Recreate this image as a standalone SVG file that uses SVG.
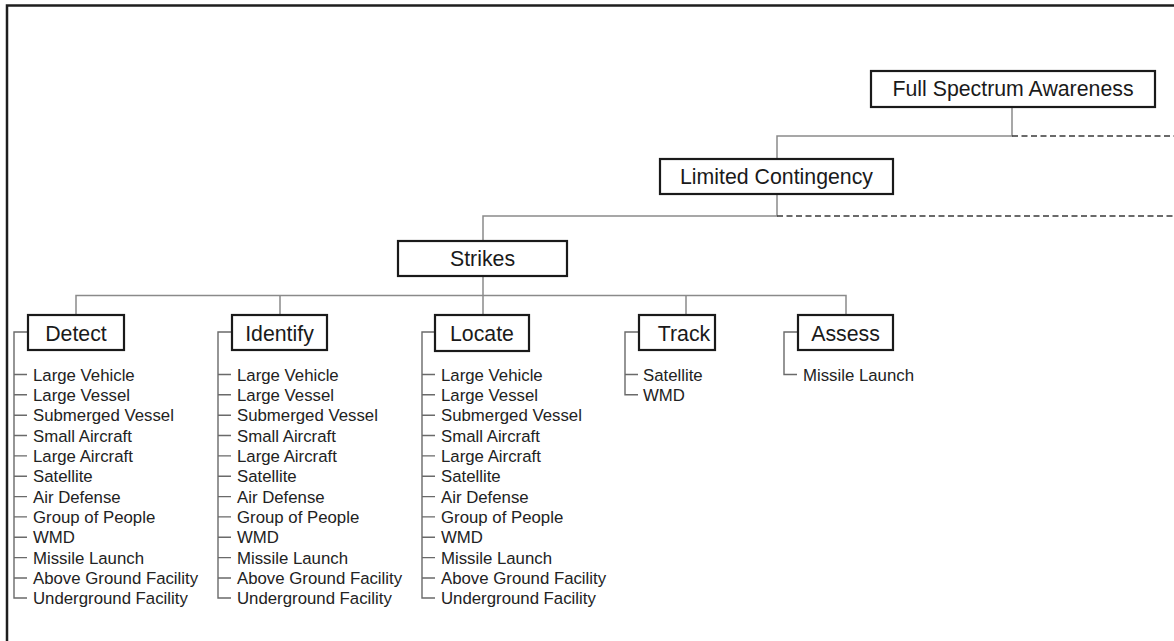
<svg xmlns="http://www.w3.org/2000/svg" width="1174" height="641" viewBox="0 0 1174 641">
  <defs>
    <style>
      .frame { fill: none; stroke: #1e1e1e; stroke-width: 2.5; }
      .link { fill: none; stroke: #8a8a8a; stroke-width: 1.5; }
      .dash { fill: none; stroke: #3a3a3a; stroke-width: 1.5; stroke-dasharray: 6 3.5; }
      .bracket { fill: none; stroke: #6a6a6a; stroke-width: 1.4; }
      .box { fill: #ffffff; stroke: #1a1a1a; stroke-width: 2.2; }
      .label { font-family: "Liberation Sans", Arial, sans-serif; font-size: 21.3px; fill: #1a1a1a; text-anchor: middle; }
      .item { font-family: "Liberation Sans", Arial, sans-serif; font-size: 16.8px; fill: #222222; }
    </style>
  </defs>

  <rect x="0" y="0" width="1174" height="641" fill="#ffffff"/>
  <path class="frame" d="M7,641 V5.5 H1174"/>

  <!-- hierarchy connectors -->
  <g id="connectors">
    <path class="link" d="M1012,107 V136 H777 V216 H483 V315"/>
    <path class="dash" d="M1012,136 H1174"/>
    <path class="dash" d="M777,216 H1174"/>
    <path class="link" d="M76,315 V295.5 H846 V315 M280,295.5 V315 M686,295.5 V315"/>

    <!-- Detect list bracket -->
    <path class="bracket" d="M28,332 H14 V598 H27
      M14,374.5 H27 M14,394.8 H27 M14,415.2 H27 M14,435.5 H27 M14,455.9 H27 M14,476.2 H27
      M14,496.6 H27 M14,516.9 H27 M14,537.3 H27 M14,557.6 H27 M14,578 H27"/>
    <!-- Identify list bracket -->
    <path class="bracket" d="M232,332 H218 V598 H231
      M218,374.5 H231 M218,394.8 H231 M218,415.2 H231 M218,435.5 H231 M218,455.9 H231 M218,476.2 H231
      M218,496.6 H231 M218,516.9 H231 M218,537.3 H231 M218,557.6 H231 M218,578 H231"/>
    <!-- Locate list bracket -->
    <path class="bracket" d="M435,332 H422 V598 H435
      M422,374.5 H435 M422,394.8 H435 M422,415.2 H435 M422,435.5 H435 M422,455.9 H435 M422,476.2 H435
      M422,496.6 H435 M422,516.9 H435 M422,537.3 H435 M422,557.6 H435 M422,578 H435"/>
    <!-- Track list bracket -->
    <path class="bracket" d="M639,332 H625 V394.8 H638 M625,374.5 H638"/>
    <!-- Assess list bracket -->
    <path class="bracket" d="M798,332 H784 V374.5 H797"/>
  </g>

  <g id="full-spectrum-awareness">
    <rect class="box" x="871" y="71" width="284" height="36"/>
    <text class="label" x="1013" y="96">Full Spectrum Awareness</text>
  </g>

  <g id="limited-contingency">
    <rect class="box" x="660" y="159" width="233" height="35"/>
    <text class="label" x="776.5" y="184">Limited Contingency</text>
  </g>

  <g id="strikes">
    <rect class="box" x="398" y="241" width="169" height="35"/>
    <text class="label" x="482.5" y="266">Strikes</text>
  </g>

  <g id="detect">
    <rect class="box" x="28" y="315" width="96" height="35"/>
    <text class="label" x="76" y="340.5">Detect</text>
    <g class="item">
      <text x="33" y="380.5">Large Vehicle</text>
      <text x="33" y="400.8">Large Vessel</text>
      <text x="33" y="421.2">Submerged Vessel</text>
      <text x="33" y="441.5">Small Aircraft</text>
      <text x="33" y="461.9">Large Aircraft</text>
      <text x="33" y="482.2">Satellite</text>
      <text x="33" y="502.6">Air Defense</text>
      <text x="33" y="522.9">Group of People</text>
      <text x="33" y="543.3">WMD</text>
      <text x="33" y="563.6">Missile Launch</text>
      <text x="33" y="584">Above Ground Facility</text>
      <text x="33" y="604.3">Underground Facility</text>
    </g>
  </g>

  <g id="identify">
    <rect class="box" x="232" y="315" width="95" height="35"/>
    <text class="label" x="279.5" y="340.5">Identify</text>
    <g class="item">
      <text x="237" y="380.5">Large Vehicle</text>
      <text x="237" y="400.8">Large Vessel</text>
      <text x="237" y="421.2">Submerged Vessel</text>
      <text x="237" y="441.5">Small Aircraft</text>
      <text x="237" y="461.9">Large Aircraft</text>
      <text x="237" y="482.2">Satellite</text>
      <text x="237" y="502.6">Air Defense</text>
      <text x="237" y="522.9">Group of People</text>
      <text x="237" y="543.3">WMD</text>
      <text x="237" y="563.6">Missile Launch</text>
      <text x="237" y="584">Above Ground Facility</text>
      <text x="237" y="604.3">Underground Facility</text>
    </g>
  </g>

  <g id="locate">
    <rect class="box" x="435" y="315" width="94" height="36"/>
    <text class="label" x="482" y="340.5">Locate</text>
    <g class="item">
      <text x="441" y="380.5">Large Vehicle</text>
      <text x="441" y="400.8">Large Vessel</text>
      <text x="441" y="421.2">Submerged Vessel</text>
      <text x="441" y="441.5">Small Aircraft</text>
      <text x="441" y="461.9">Large Aircraft</text>
      <text x="441" y="482.2">Satellite</text>
      <text x="441" y="502.6">Air Defense</text>
      <text x="441" y="522.9">Group of People</text>
      <text x="441" y="543.3">WMD</text>
      <text x="441" y="563.6">Missile Launch</text>
      <text x="441" y="584">Above Ground Facility</text>
      <text x="441" y="604.3">Underground Facility</text>
    </g>
  </g>

  <g id="track">
    <rect class="box" x="639" y="315" width="76" height="35"/>
    <text class="label" x="684" y="340.5">Track</text>
    <g class="item">
      <text x="643" y="380.5">Satellite</text>
      <text x="643" y="400.8">WMD</text>
    </g>
  </g>

  <g id="assess">
    <rect class="box" x="798" y="315" width="95" height="35"/>
    <text class="label" x="845.5" y="340.5">Assess</text>
    <g class="item">
      <text x="803" y="380.5">Missile Launch</text>
    </g>
  </g>
</svg>
